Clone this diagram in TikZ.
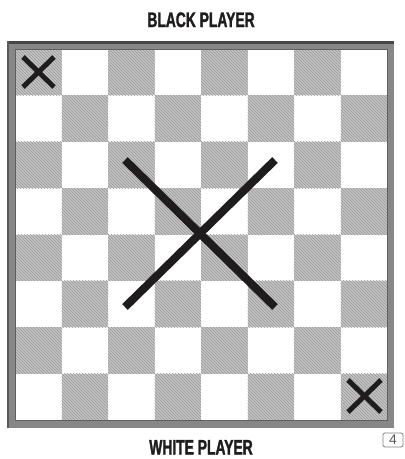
\documentclass[tikz,border=0pt]{standalone}
\usepackage{fontspec}
\setmainfont{Liberation Sans}
\newfontfamily\titlefont{Liberation Sans}[UprightFont={* Bold}, FakeBold=1.5, FakeStretch=0.66]
\usetikzlibrary{patterns}
\definecolor{hatch}{RGB}{196,196,196}
\definecolor{hatchline}{RGB}{150,150,150}
\definecolor{framegray}{RGB}{135,135,135}
\definecolor{framedark}{RGB}{70,70,70}
\definecolor{xblack}{RGB}{30,28,28}
\tikzset{
  title/.style={font=\titlefont\fontsize{21}{21}\selectfont, text=xblack, inner sep=0pt},
  darksq/.style={fill=hatch, draw=none},
  cross/.style={draw=xblack, line cap=butt},
  tag/.style={draw=gray, rounded corners=1.5pt, line width=0.8pt, minimum width=20pt, minimum height=14pt, inner sep=0pt, text=gray!70!black, font=\fontsize{14}{14}\selectfont}
}
\begin{document}
\begin{tikzpicture}[x=1pt,y=-1pt]
\useasboundingbox (0,0) rectangle (405,459);
\fill[white] (0,0) rectangle (405,459);
% frame
\fill[framegray] (7,41) rectangle (394,428);
\fill[framedark] (7,41) rectangle (394,44);
\fill[framedark!70!framegray] (7,41) rectangle (9,428);
\fill[white] (15,49) rectangle (387,420);
% squares
\foreach \i in {0,...,7}{
  \foreach \j in {0,...,7}{
    \pgfmathtruncatemacro{\sqpar}{mod(\i+\j,2)}
    \ifnum\sqpar=0
      \fill[darksq] ({15+\i*46.5},{49+\j*46.375}) rectangle ({15+(\i+1)*46.5},{49+(\j+1)*46.375});
      \fill[pattern=north west lines, pattern color=hatchline] ({15+\i*46.5},{49+\j*46.375}) rectangle ({15+(\i+1)*46.5},{49+(\j+1)*46.375});
    \fi
  }
}
\draw[framedark!60!framegray, line width=0.6pt] (15,49) rectangle (387,420);
% crosses
\coordinate (a1) at (125,160); \coordinate (a2) at (275,307);
\coordinate (b1) at (275,160); \coordinate (b2) at (125,307);
\draw[cross, line width=8pt] (a1) -- (a2);
\draw[cross, line width=8pt] (b1) -- (b2);
\coordinate (c1) at (23,57); \coordinate (c2) at (54,87);
\coordinate (d1) at (54,57); \coordinate (d2) at (23,87);
\draw[cross, line width=5pt] (c1) -- (c2);
\draw[cross, line width=5pt] (d1) -- (d2);
\coordinate (e1) at (348,380); \coordinate (e2) at (381,412);
\coordinate (f1) at (381,380); \coordinate (f2) at (348,412);
\draw[cross, line width=5pt] (e1) -- (e2);
\draw[cross, line width=5pt] (f1) -- (f2);
% titles
\node[title, anchor=base] (black) at (201,27) {BLACK PLAYER};
\node[title, anchor=base] (white) at (201,454.5) {WHITE PLAYER};
\node[tag] (num) at (393,440) {4};
\end{tikzpicture}
\end{document}
